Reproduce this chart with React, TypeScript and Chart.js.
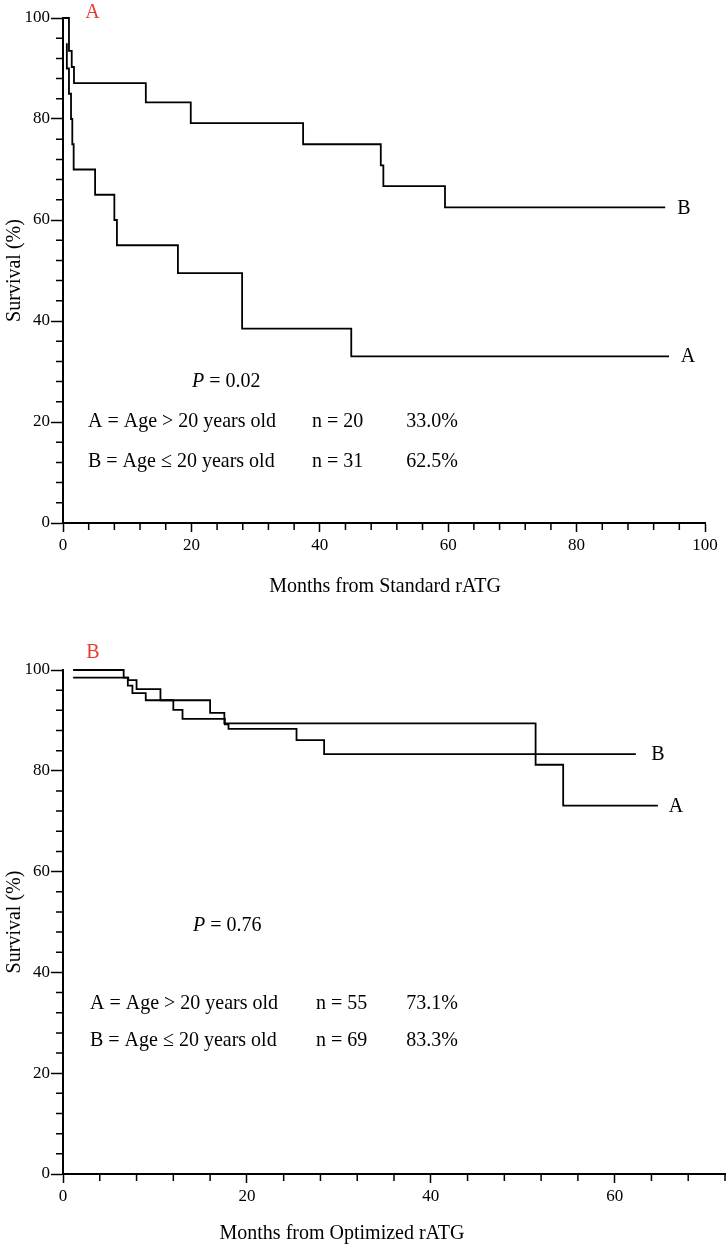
import { useEffect, useRef } from 'react';
import { Chart, registerables } from 'chart.js';

Chart.register(...registerables);

const SERIF = '"Liberation Serif", "Times New Roman", serif';
const INK = '#000';
const RED = '#e53b30';

// Panel A – months from standard rATG (Kaplan-Meier steps)
const stdMonthsA = [0.6, 0.6, 0.93, 1.25, 1.45, 1.66, 5.0, 8.0, 8.4, 17.9, 27.9, 44.9, 94.4];
const stdSurvA = [95, 90, 85, 80, 75, 70, 65, 60, 55, 49.5, 38.5, 33.0, 33.0];
const stdMonthsB = [0, 0.93, 1.36, 1.71, 12.9, 19.9, 37.4, 49.5, 49.9, 59.5, 93.8];
const stdSurvB = [100, 93.5, 90.3, 87.1, 83.3, 79.2, 75.0, 70.8, 66.7, 62.5, 62.5];

// Panel B – months from optimized rATG
const optMonthsA = [1.1, 6.6, 7.05, 7.55, 9.0, 16.0, 17.55, 51.4, 54.4, 64.7];
const optSurvA = [100, 98.5, 96.9, 95.4, 94.0, 91.5, 89.4, 81.2, 73.1, 73.1];
const optMonthsB = [1.1, 7.1, 8.0, 10.6, 12.0, 13.0, 17.6, 18.0, 25.4, 28.4, 62.3];
const optSurvB = [98.5, 98.0, 96.2, 94.0, 92.1, 90.3, 89.2, 88.3, 86.1, 83.3, 83.3];

const groupLabels = ['A = Age > 20 years old', 'B = Age \u2264 20 years old'];
const stdCounts = ['n = 20', 'n = 31'];
const stdRates = ['33.0%', '62.5%'];
const optCounts = ['n = 55', 'n = 69'];
const optRates = ['73.1%', '83.3%'];

type Part = [string, boolean];
type Txt = {
  parts: Part[];
  x: number;
  y: number;
  align?: 'left' | 'right' | 'center';
  color?: string;
  size?: number;
};

const t = (text: string, x: number, y: number, align: Txt['align'] = 'left', color = INK): Txt => ({
  parts: [[text, false]],
  x,
  y,
  align,
  color,
});

const minorTicks = {
  id: 'minorTicks',
  afterDraw(chart: any) {
    const { ctx, scales } = chart;
    const xs = scales.x;
    const ys = scales.y;
    ctx.save();
    ctx.strokeStyle = INK;
    ctx.lineWidth = 1.5;
    ctx.beginPath();
    for (let v = 0; v <= xs.max + 0.001; v += 4) {
      if (v % 20 === 0) continue;
      const px = xs.getPixelForValue(v);
      ctx.moveTo(px, xs.top + 1);
      ctx.lineTo(px, xs.top + 7);
    }
    for (let v = 0; v <= ys.max + 0.001; v += 4) {
      if (v % 20 === 0) continue;
      const py = ys.getPixelForValue(v);
      ctx.moveTo(ys.right - 1, py);
      ctx.lineTo(ys.right - 7, py);
    }
    ctx.stroke();
    ctx.restore();
  },
};

// the source figure's lettering is slightly taller than wide
const STRETCH = 1.1;

function textPlugin(texts: Txt[]) {
  return {
    id: 'kmText',
    afterDraw(chart: any) {
      const ctx: CanvasRenderingContext2D = chart.ctx;
      ctx.save();
      ctx.textBaseline = 'middle';
      ctx.textAlign = 'left';
      for (const tx of texts) {
        const size = tx.size ?? 20;
        const fontOf = (it: boolean) => `${it ? 'italic ' : ''}${size}px ${SERIF}`;
        let width = 0;
        for (const [s, it] of tx.parts) {
          ctx.font = fontOf(it);
          width += ctx.measureText(s).width;
        }
        let x = tx.x;
        if (tx.align === 'right') x -= width;
        if (tx.align === 'center') x -= width / 2;
        ctx.fillStyle = tx.color ?? INK;
        ctx.save();
        ctx.translate(0, tx.y);
        ctx.scale(1, STRETCH);
        for (const [s, it] of tx.parts) {
          ctx.font = fontOf(it);
          ctx.fillText(s, x, 0);
          x += ctx.measureText(s).width;
        }
        ctx.restore();
      }
      ctx.restore();
    },
  };
}

type Curve = { months: number[]; surv: number[] };

function KMChart(props: {
  top: number;
  height: number;
  xMax: number;
  padTop: number;
  padRight: number;
  xAxisHeight: number;
  curves: Curve[];
  texts: Txt[];
}) {
  const chartRef = useRef<HTMLCanvasElement | null>(null);

  useEffect(() => {
    if (!chartRef.current) return;
    const ctx = chartRef.current.getContext('2d');
    if (!ctx) return;

    const tickFont = { family: SERIF, size: 17 };

    const chart = new Chart(ctx, {
      type: 'line',
      data: {
        datasets: props.curves.map((c) => ({
          data: c.months.map((m, i) => ({ x: m, y: c.surv[i] })),
          stepped: 'before' as const,
          borderColor: INK,
          borderWidth: 1.8,
          pointRadius: 0,
          fill: false,
          clip: 4,
        })),
      },
      options: {
        animation: false,
        responsive: true,
        maintainAspectRatio: false,
        events: [],
        layout: { padding: { top: props.padTop, right: props.padRight, left: 0, bottom: 0 } },
        plugins: { legend: { display: false }, tooltip: { enabled: false } },
        scales: {
          x: {
            type: 'linear',
            min: 0,
            max: props.xMax,
            afterFit: (s: any) => {
              s.height = props.xAxisHeight;
            },
            ticks: {
              stepSize: 20,
              includeBounds: false,
              autoSkip: false,
              maxRotation: 0,
              padding: 3,
              color: INK,
              font: tickFont,
            },
            grid: { drawOnChartArea: false, tickLength: 9, tickWidth: 1.5, tickColor: INK },
            border: { color: INK, width: 2 },
          },
          y: {
            type: 'linear',
            min: 0,
            max: 100,
            afterFit: (s: any) => {
              s.width = 63;
            },
            ticks: { stepSize: 20, padding: 1, color: INK, font: tickFont },
            grid: { drawOnChartArea: false, tickLength: 12, tickWidth: 1.5, tickColor: INK },
            border: { color: INK, width: 2 },
            title: {
              display: true,
              text: 'Survival (%)',
              color: INK,
              font: { family: SERIF, size: 20 },
              padding: 3,
            },
          },
        },
      },
      plugins: [minorTicks, textPlugin(props.texts)],
    });

    return () => {
      chart.destroy();
    };
  }, []);

  return (
    <div style={{ position: 'absolute', left: 0, top: props.top, width: 728, height: props.height }}>
      <canvas ref={chartRef}></canvas>
    </div>
  );
}

const stdTexts: Txt[] = [
  t('A', 92.5, 12.5, 'center', RED),
  { parts: [['P', true], [' = 0.02', false]], x: 192, y: 381 },
  t(groupLabels[0], 88, 421),
  t(stdCounts[0], 312, 421),
  t(stdRates[0], 458, 421, 'right'),
  t(groupLabels[1], 88, 461),
  t(stdCounts[1], 312, 461),
  t(stdRates[1], 458, 461, 'right'),
  t('B', 684, 208, 'center'),
  t('A', 688, 356, 'center'),
  t('Months from Standard rATG', 385, 586, 'center'),
];

const optTexts: Txt[] = [
  t('B', 93, 32.5, 'center', RED),
  { parts: [['P', true], [' = 0.76', false]], x: 193, y: 305 },
  t(groupLabels[0], 90, 383),
  t(optCounts[0], 316, 383),
  t(optRates[0], 458, 383, 'right'),
  t(groupLabels[1], 90, 420),
  t(optCounts[1], 316, 420),
  t(optRates[1], 458, 420, 'right'),
  t('B', 658, 134, 'center'),
  t('A', 676, 186, 'center'),
  t('Months from Optimized rATG', 342, 613, 'center'),
];

export default function App() {
  return (
    <div style={{ position: 'absolute', left: 0, top: 0, width: 728, height: 1249, background: '#fff' }}>
      <KMChart
        top={0}
        height={620}
        xMax={100}
        padTop={18}
        padRight={23}
        xAxisHeight={97}
        curves={[
          { months: stdMonthsA, surv: stdSurvA },
          { months: stdMonthsB, surv: stdSurvB },
        ]}
        texts={stdTexts}
      />
      <KMChart
        top={620}
        height={629}
        xMax={72}
        padTop={50}
        padRight={3}
        xAxisHeight={75}
        curves={[
          { months: optMonthsA, surv: optSurvA },
          { months: optMonthsB, surv: optSurvB },
        ]}
        texts={optTexts}
      />
    </div>
  );
}
